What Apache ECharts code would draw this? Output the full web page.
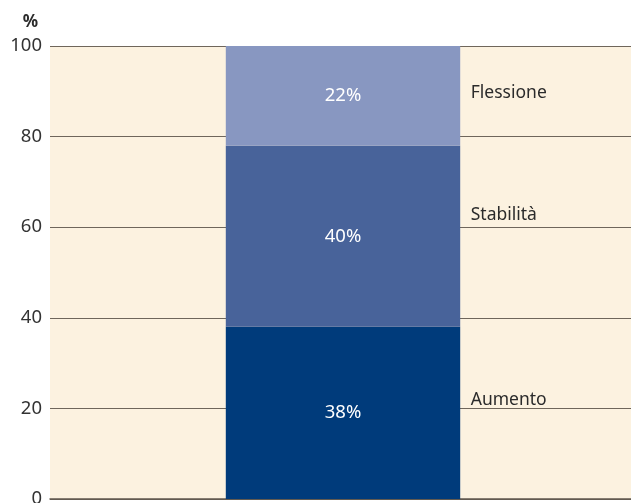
<!DOCTYPE html>
<html>
<head>
<meta charset="utf-8">
<script src="https://cdn.jsdelivr.net/npm/echarts@6/dist/echarts.min.js"></script>
<style>
  html, body { margin: 0; padding: 0; background: #ffffff; }
  #chart { width: 631px; height: 503px; }
</style>
</head>
<body>
<div id="chart"></div>
<script>
// Share of responses, stacked into a single column
const categories = [''];
const seriesNames = ['Aumento', 'Stabilità', 'Flessione'];
const aumento = [38];
const stabilita = [40];
const flessione = [22];
const yTicks = [0, 20, 40, 60, 80, 100];

const seriesValues = [aumento, stabilita, flessione];
const colors = ['#003b7b', '#48639a', '#8897c1'];
// where each side label sits, relative to its segment
const sideLabelY = ['42.5%', '38.5%', '47%'];

const chart = echarts.init(document.getElementById('chart'));

const valueSeries = seriesValues.map((vals, i) => ({
  name: seriesNames[i],
  type: 'bar',
  stack: 'total',
  barWidth: '40%',
  data: vals,
  itemStyle: { color: colors[i] },
  z: 3,
  label: {
    show: true,
    position: 'inside',
    formatter: p => p.value + '%',
    color: '#ffffff',
    fontFamily: 'Noto Sans',
    fontSize: 18.5
  }
}));

// transparent overlay carrying the series names beside the column
const nameSeries = seriesValues.map((vals, i) => ({
  name: seriesNames[i] + ' ',
  type: 'bar',
  stack: 'names',
  barWidth: '40%',
  barGap: '-100%',
  data: vals,
  itemStyle: { color: 'rgba(0,0,0,0)' },
  silent: true,
  z: 4,
  label: {
    show: true,
    position: ['104.5%', sideLabelY[i]],
    align: 'left',
    verticalAlign: 'middle',
    formatter: () => seriesNames[i],
    color: '#2b2b2b',
    fontFamily: 'Noto Sans',
    fontSize: 17.5
  }
}));

chart.setOption({
  animation: false,
  grid: {
    left: 50, right: -5, top: 46, bottom: 4,
    outerBoundsMode: 'none',
    containLabel: false,
    show: true,
    backgroundColor: '#fcf2e0',
    borderWidth: 0
  },
  xAxis: {
    type: 'category',
    data: categories,
    axisLine: { show: true, lineStyle: { color: '#5f574d', width: 1.5 } },
    axisTick: { show: false },
    axisLabel: { show: false }
  },
  yAxis: {
    type: 'value',
    min: yTicks[0],
    max: yTicks[yTicks.length - 1],
    interval: yTicks[1] - yTicks[0],
    name: '%',
    nameLocation: 'end',
    nameGap: 15,
    nameTextStyle: {
      align: 'right',
      fontWeight: 'bold',
      fontFamily: 'Noto Sans',
      fontSize: 17,
      color: '#2b2b2b',
      padding: [0, 12, 0, 0]
    },
    axisLine: { show: false },
    axisTick: { show: false },
    axisLabel: {
      color: '#333333',
      fontFamily: 'Noto Sans',
      fontSize: 18.5,
      margin: 8
    },
    splitLine: { show: true, lineStyle: { color: '#6f665b', width: 1 } }
  },
  series: valueSeries.concat(nameSeries)
});
</script>
</body>
</html>
